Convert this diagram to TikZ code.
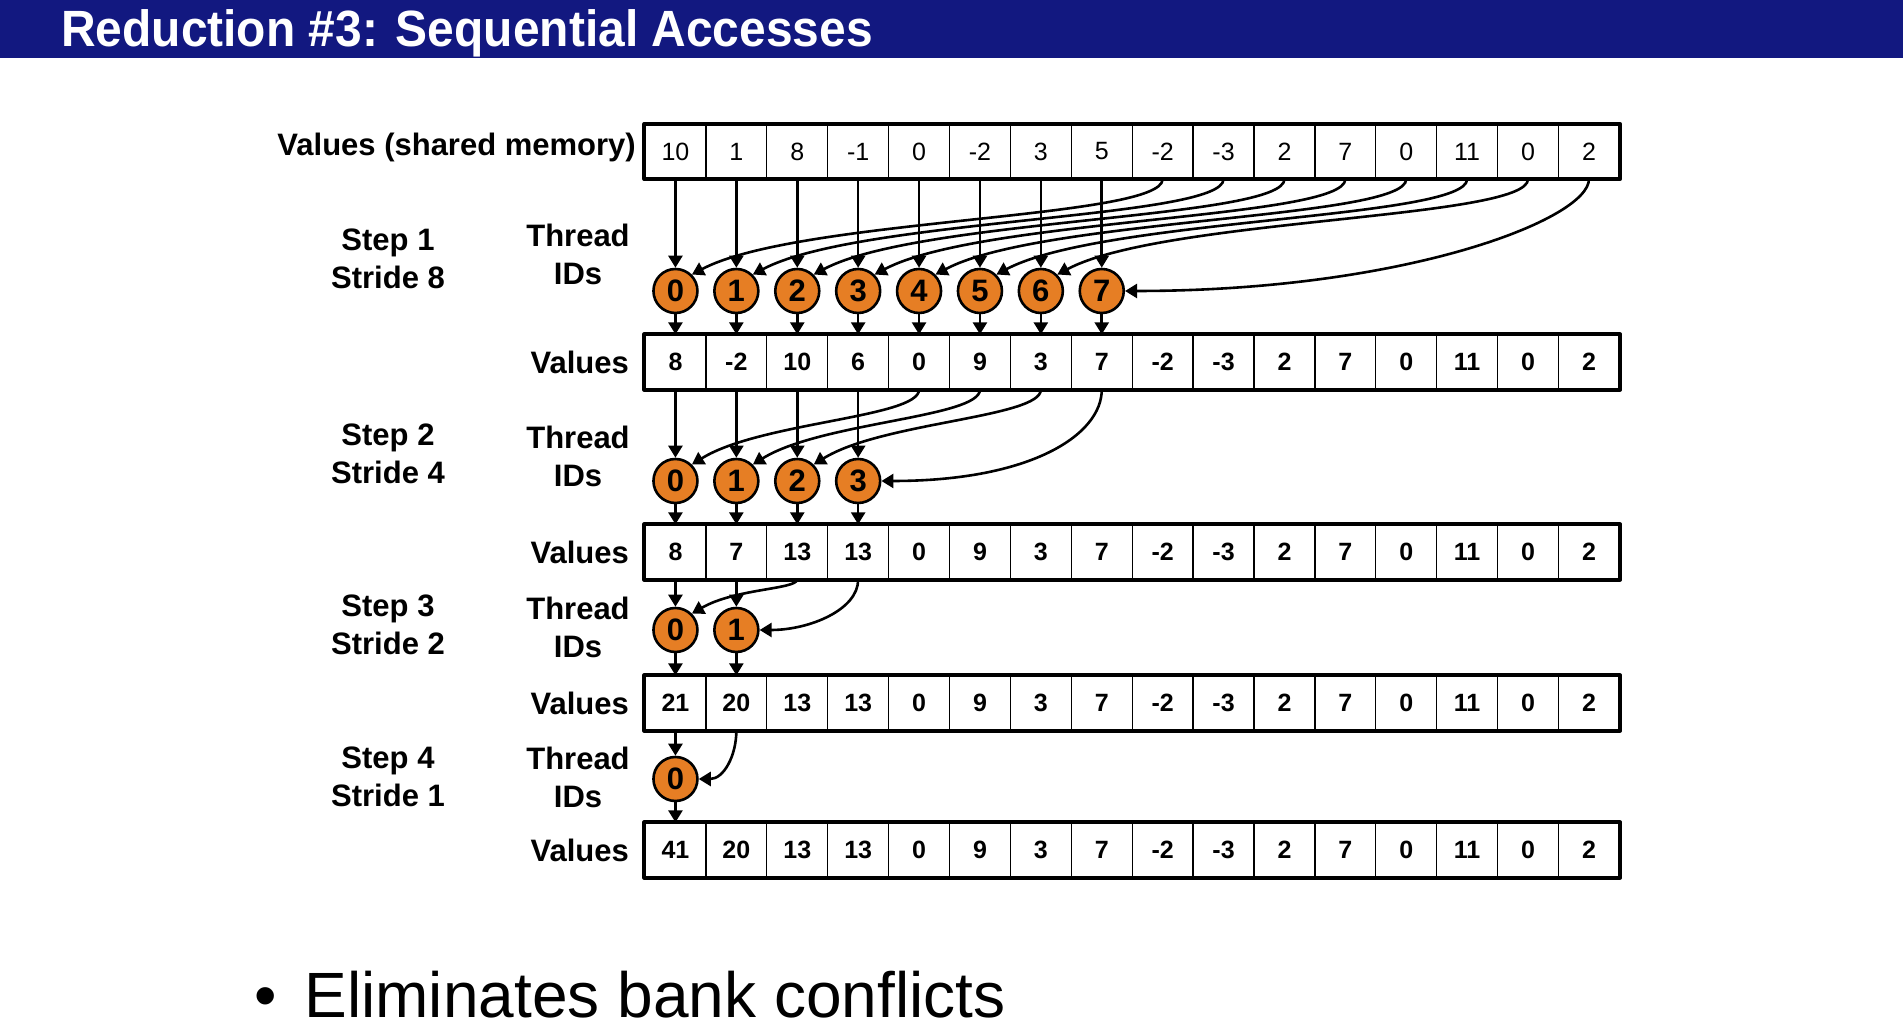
\documentclass[tikz,border=0pt]{standalone}
\usepackage{fontspec}
\setmainfont{Liberation Sans}
\usetikzlibrary{arrows.meta}
\definecolor{titleblue}{RGB}{18,24,128}
\definecolor{tidorange}{RGB}{230,126,36}

\tikzset{
  cell/.style={draw, line width=1.3pt, minimum width=60.9pt, minimum height=54pt, inner sep=0pt, font=\fontsize{25}{25}\selectfont},
  cellb/.style={cell, font=\bfseries\fontsize{25}{25}\selectfont},
  tid/.style={circle, draw, line width=2.6pt, fill=tidorange, minimum size=44pt, inner sep=0pt, font=\bfseries\fontsize{31}{31}\selectfont},
  lbl/.style={inner sep=0pt, align=center, font=\bfseries\fontsize{31}{38}\selectfont},
  flow/.style={->, line width=2.6pt},
  frame/.style={line width=3.8pt}
}

\begin{document}
\begin{tikzpicture}[line cap=round,line join=round,>={Triangle[width=14pt,length=12pt]},x=1pt,y=1pt]
\useasboundingbox (0,0) rectangle (1903,1032);
\fill[white] (0,0) rectangle (1903,1032);
\fill[titleblue] (0,974) rectangle (1903,1032);
\node[anchor=west, inner sep=0pt, text=white, xscale=0.94, font=\bfseries\fontsize{51}{51}\selectfont] (title) at (61,999) {Reduction \#3: Sequential Accesses};

\foreach \v [count=\i from 0] in {10,1,8,-1,0,-2,3,5,-2,-3,2,7,0,11,0,2}
  \node[cell] (a\i) at (675.45+60.9*\i,880.5) {\v};
\foreach \v [count=\i from 0] in {8,-2,10,6,0,9,3,7,-2,-3,2,7,0,11,0,2}
  \node[cellb] (b\i) at (675.45+60.9*\i,670) {\v};
\foreach \v [count=\i from 0] in {8,7,13,13,0,9,3,7,-2,-3,2,7,0,11,0,2}
  \node[cellb] (c\i) at (675.45+60.9*\i,480) {\v};
\foreach \v [count=\i from 0] in {21,20,13,13,0,9,3,7,-2,-3,2,7,0,11,0,2}
  \node[cellb] (d\i) at (675.45+60.9*\i,329) {\v};
\foreach \v [count=\i from 0] in {41,20,13,13,0,9,3,7,-2,-3,2,7,0,11,0,2}
  \node[cellb] (e\i) at (675.45+60.9*\i,182) {\v};
\foreach \r in {a,b,c,d,e}
  \draw[frame] (\r0.north west) rectangle (\r15.south east);

\foreach \i in {0,...,7}
  \node[tid] (p\i) at (675.45+60.9*\i,741) {\i};
\foreach \i in {0,...,3}
  \node[tid] (q\i) at (675.45+60.9*\i,551) {\i};
\foreach \i in {0,1}
  \node[tid] (r\i) at (675.45+60.9*\i,402) {\i};
\node[tid] (t0) at (675.45,253) {0};

\node[lbl, anchor=east] (lv0) at (636,884) {Values (shared memory)};
\node[lbl, anchor=east] (lv1) at (629,670) {Values};
\node[lbl, anchor=east] (lv2) at (629,480) {Values};
\node[lbl, anchor=east] (lv3) at (629,329) {Values};
\node[lbl, anchor=east] (lv4) at (629,182) {Values};
\node[lbl] (th1) at (578,778) {Thread\\IDs};
\node[lbl] (th2) at (578,576) {Thread\\IDs};
\node[lbl] (th3) at (578,405) {Thread\\IDs};
\node[lbl] (th4) at (578,255) {Thread\\IDs};
\node[lbl] (st1) at (388,773) {Step 1\\Stride 8};
\node[lbl] (st2) at (388,578) {Step 2\\Stride 4};
\node[lbl] (st3) at (388,407) {Step 3\\Stride 2};
\node[lbl] (st4) at (388,255) {Step 4\\Stride 1};

\foreach \i in {0,...,7} {
  \draw[flow] (a\i.south) -- (p\i.north);
  \draw[flow] (p\i.south) -- (b\i.north);
}
\foreach \i [evaluate=\i as \j using int(\i+8)] in {0,...,6}
  \draw[flow] (a\j.south) to[out=-90,in=28,out distance=40pt,in distance=120pt] (p\i.north east);
\draw[flow] (a15.south) to[out=-90,in=0,out distance=40pt,in distance=280pt] (p7.east);

\foreach \i in {0,...,3} {
  \draw[flow] (b\i.south) -- (q\i.north);
  \draw[flow] (q\i.south) -- (c\i.north);
}
\foreach \i [evaluate=\i as \j using int(\i+4)] in {0,...,2}
  \draw[flow] (b\j.south) to[out=-90,in=32,out distance=28pt,in distance=80pt] (q\i.north east);
\draw[flow] (b7.south) to[out=-90,in=0,out distance=45pt,in distance=150pt] (q3.east);

\foreach \i in {0,1} {
  \draw[flow] (c\i.south) -- (r\i.north);
  \draw[flow] (r\i.south) -- (d\i.north);
}
\draw[flow] (c2.south) to[out=-100,in=30,out distance=10pt,in distance=50pt] (r0.north east);
\draw[flow] (c3.south) to[out=-90,in=0,out distance=30pt,in distance=50pt] (r1.east);

\draw[flow] (d0.south) -- (t0.north);
\draw[flow] (t0.south) -- (e0.north);
\draw[flow] (d1.south) to[out=-90,in=0,out distance=25pt,in distance=25pt] (t0.east);

\node[anchor=base west, inner sep=0pt, font=\fontsize{64}{64}\selectfont] (point) at (254,14) {\textbullet\hspace{28pt}Eliminates bank conflicts};
\end{tikzpicture}
\end{document}
